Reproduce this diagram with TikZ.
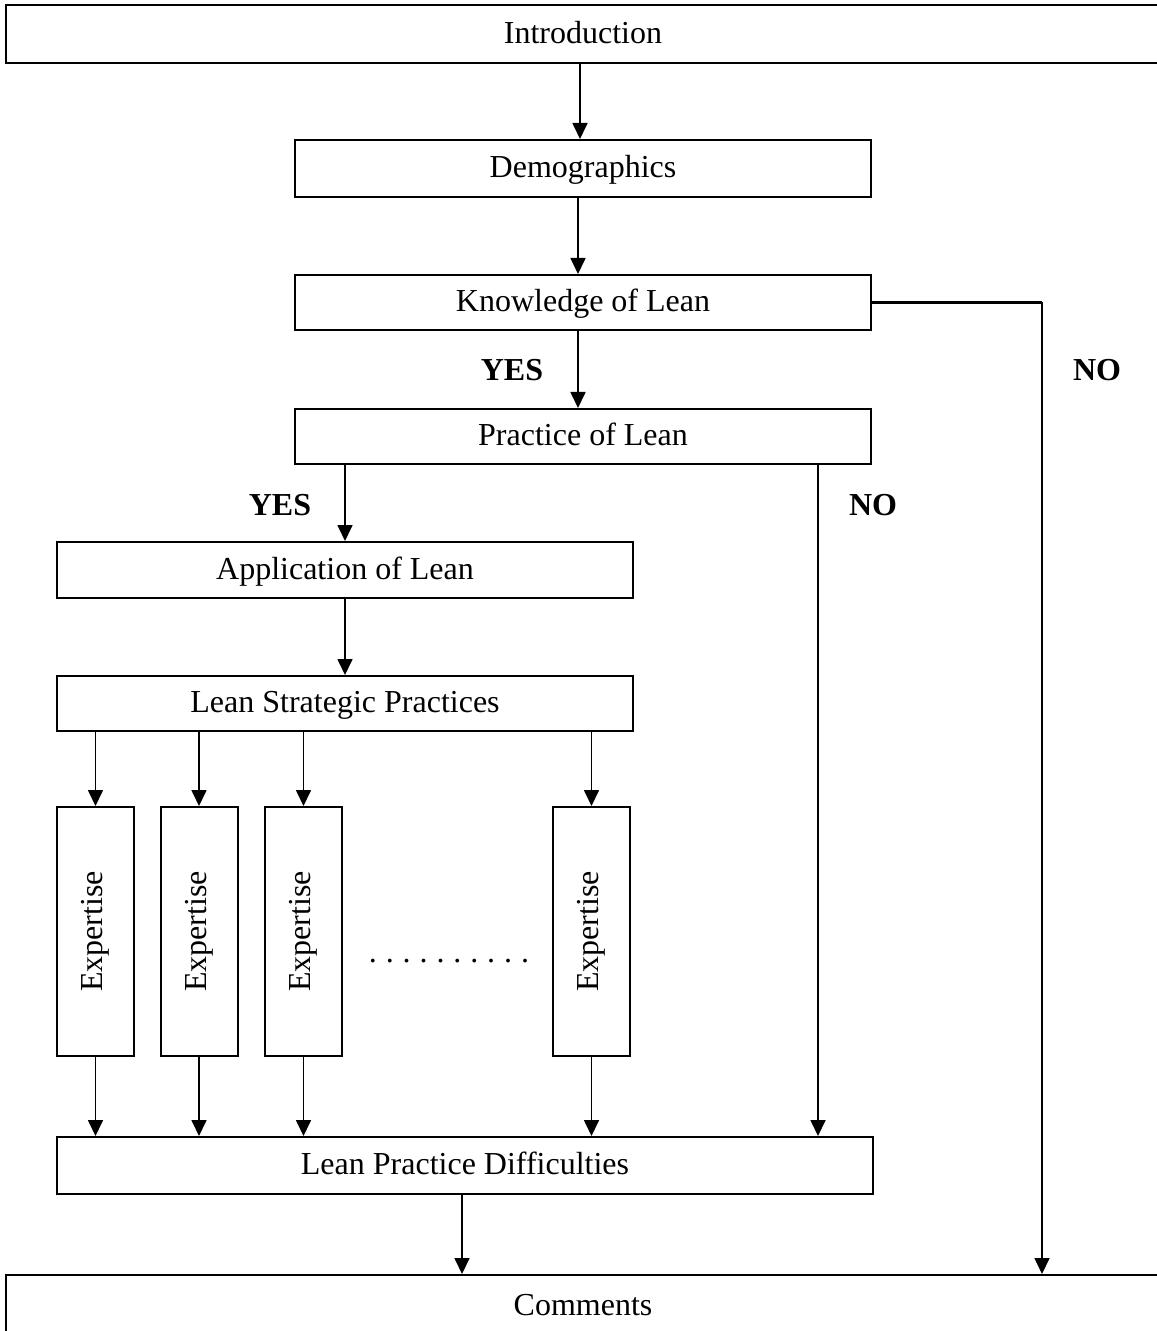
\documentclass[tikz,border=0pt]{standalone}
\usepackage{fontspec}
\setmainfont{Liberation Serif}
\usetikzlibrary{arrows.meta,calc}
\newcommand{\dotsep}{.\kern4.45pt}
\begin{document}
\begin{tikzpicture}[x=0.5pt,y=-0.5pt,
  font=\fontsize{16}{19}\selectfont,
  box/.style={draw,line width=1pt,inner sep=0pt,anchor=center,text depth=2pt},
  arr/.style={line width=0.85pt,-{Triangle[length=8pt,width=7.5pt]}},
  ln/.style={line width=1.4pt},
  lbl/.style={font=\fontsize{16}{19}\selectfont\bfseries,inner sep=0pt}]
\useasboundingbox (0,0) rectangle (1156,1331);
\node[box,minimum width=577pt,minimum height=29pt] (intro) at (583,34) {Introduction};
\node[box,minimum width=288pt,minimum height=28.5pt] (demo) at (583,168.5) {Demographics};
\node[box,minimum width=288pt,minimum height=27.5pt] (know) at (583,302.5) {Knowledge of Lean};
\node[box,minimum width=288pt,minimum height=27.5pt] (prac) at (583,436.5) {Practice of Lean};
\node[box,minimum width=288pt,minimum height=28pt] (app) at (345,570) {Application of Lean};
\node[box,minimum width=288pt,minimum height=27.5pt] (lsp) at (345,703.5) {Lean Strategic Practices};
\foreach \n/\x in {e1/95.5,e2/199,e3/303.5,e4/591.5}{
  \node[box,minimum width=38.5pt,minimum height=124.5pt] (\n) at (\x,931.5) {};
  \node[rotate=90,inner sep=0pt] at (\n) {Expertise};
}
\node[inner sep=0pt,anchor=base] (dots) at (449,962) {\dotsep\dotsep\dotsep\dotsep\dotsep\dotsep\dotsep\dotsep\dotsep.};
\node[box,minimum width=408pt,minimum height=28.5pt] (diff) at (465,1165.5) {Lean Practice Difficulties};
\node[box,minimum width=577pt,minimum height=32pt] (comm) at (583,1307) {Comments};
% main flow
\draw[arr] ($(intro.south)+(-3,0)$) -- ($(demo.north)+(-3,0)$);
\draw[arr] ($(demo.south)+(-5,0)$) -- ($(know.north)+(-5,0)$);
\draw[arr] ($(know.south)+(-5,0)$) -- ($(prac.north)+(-5,0)$);
\node[lbl] (yes1) at (512,370) {YES};
\draw[arr] (prac.south -| app.north) -- (app.north);
\node[lbl] (yes2) at (280,505) {YES};
\draw[arr] (app.south) -- (lsp.north);
\foreach \n in {e1,e2,e3,e4}{
  \draw[arr] (lsp.south -| \n.north) -- (\n.north);
  \draw[arr] (\n.south) -- (diff.north -| \n.south);
}
\coordinate (d1) at ($(diff.south)+(-3,0)$);
\draw[arr] (d1) -- (comm.north -| d1);
% NO branches
\coordinate (k1) at (1042,303);
\draw[ln] (know.east) -- (know.east -| k1);
\draw[arr] (know.east -| k1) -- (comm.north -| k1);
\node[lbl] (no1) at (1097,370) {NO};
\coordinate (p1) at (818,0);
\draw[arr] (prac.south -| p1) -- (diff.north -| p1);
\node[lbl] (no2) at (873,505) {NO};
\end{tikzpicture}
\end{document}
